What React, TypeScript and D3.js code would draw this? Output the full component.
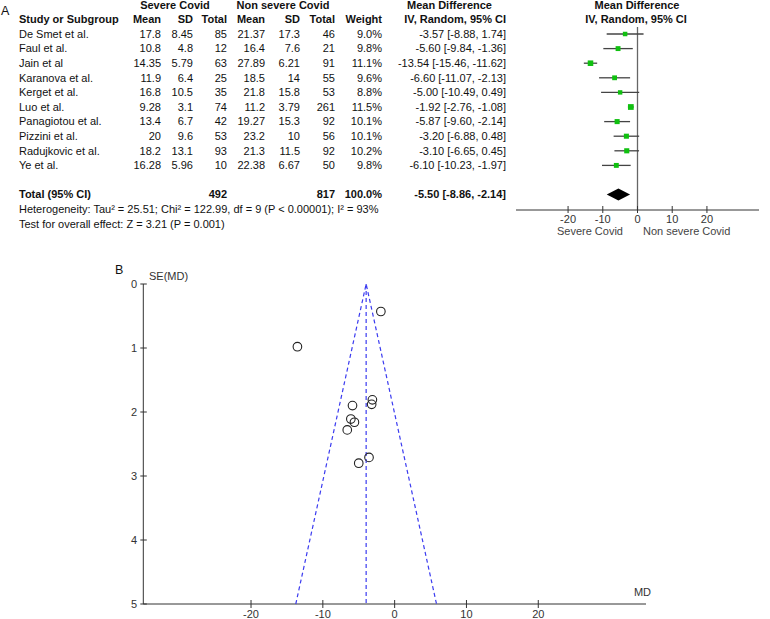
import React from 'react';
import * as d3 from 'd3';

// study table
const studies = ['De Smet et al.', 'Faul et al.', 'Jain et al', 'Karanova et al.', 'Kerget et al.', 'Luo et al.', 'Panagiotou et al.', 'Pizzini et al.', 'Radujkovic et al.', 'Ye et al.'];
const sevMean = ['17.8', '10.8', '14.35', '11.9', '16.8', '9.28', '13.4', '20', '18.2', '16.28'];
const sevSD = ['8.45', '4.8', '5.79', '6.4', '10.5', '3.1', '6.7', '9.6', '13.1', '5.96'];
const sevTotal = [85, 12, 63, 25, 35, 74, 42, 53, 93, 10];
const nonMean = ['21.37', '16.4', '27.89', '18.5', '21.8', '11.2', '19.27', '23.2', '21.3', '22.38'];
const nonSD = ['17.3', '7.6', '6.21', '14', '15.8', '3.79', '15.3', '10', '11.5', '6.67'];
const nonTotal = [46, 21, 91, 55, 53, 261, 92, 56, 92, 50];
const weights = [9.0, 9.8, 11.1, 9.6, 8.8, 11.5, 10.1, 10.1, 10.2, 9.8];
const md = [-3.57, -5.6, -13.54, -6.6, -5.0, -1.92, -5.87, -3.2, -3.1, -6.1];
const ciLow = [-8.88, -9.84, -15.46, -11.07, -10.49, -2.76, -9.6, -6.88, -6.65, -10.23];
const ciHigh = [1.74, -1.36, -11.62, -2.13, 0.49, -1.08, -2.14, 0.48, 0.45, -1.97];
// standard errors
const se = [2.71, 2.16, 0.98, 2.28, 2.8, 0.43, 1.9, 1.88, 1.81, 2.11];

const total = { sev: 492, non: 817, weight: '100.0%', md: -5.5, lo: -8.86, hi: -2.14 };
const funnelCenter = -3.97;
const forestTicks = [-20, -10, 0, 10, 20];
const funnelXTicks = [-20, -10, 0, 10, 20];
const funnelYTicks = [0, 1, 2, 3, 4, 5];

const FONT = 'Liberation Sans, Arial, sans-serif';
const fmt = (v: number) => v.toFixed(2);

export default function App() {
  const row = d3.scaleLinear().domain([0, 1]).range([34, 48.6]);
  const fx = d3.scaleLinear().domain([-35, 35]).range([516, 759]);
  const axisY = 210;

  const gx = d3.scaleLinear().domain([-35, 35]).range([143.3, 646]);
  const gy = d3.scaleLinear().domain([0, 5]).range([284, 604]);

  const cols = [
    { x: 161, vals: sevMean },
    { x: 193, vals: sevSD },
    { x: 227, vals: sevTotal.map(String) },
    { x: 265, vals: nonMean },
    { x: 300, vals: nonSD },
    { x: 335, vals: nonTotal.map(String) },
    { x: 382, vals: weights.map(w => w.toFixed(1) + '%') },
    { x: 506, vals: md.map((m, i) => `${fmt(m)} [${fmt(ciLow[i])}, ${fmt(ciHigh[i])}]`) },
  ];
  const heads = [
    { x: 161, t: 'Mean' }, { x: 193, t: 'SD' }, { x: 227, t: 'Total' },
    { x: 265, t: 'Mean' }, { x: 300, t: 'SD' }, { x: 335, t: 'Total' }, { x: 382, t: 'Weight' },
  ];

  const diamond = [
    [fx(total.lo), row(11)], [fx(total.md), row(11) - 6], [fx(total.hi), row(11)], [fx(total.md), row(11) + 6],
  ].map(p => p.join(',')).join(' ');

  const line = d3.line<[number, number]>().x(d => gx(d[0])).y(d => gy(d[1]));

  return (
    <svg width={770} height={619} style={{ position: 'absolute', left: 0, top: 0 }} fontFamily={FONT} fontSize={11} fill="#111">
      <rect width={770} height={619} fill="#fff" />
      {/* panel A */}
      <text x={1} y={15} fontSize={12.5}>A</text>
      <g fontWeight="bold">
        <text x={175} y={row(-2)} dy="0.35em" textAnchor="middle">Severe Covid</text>
        <text x={283} y={row(-2)} dy="0.35em" textAnchor="middle">Non severe Covid</text>
        <text x={407} y={row(-2)} dy="0.35em">Mean Difference</text>
        <text x={637} y={row(-2)} dy="0.35em" textAnchor="middle">Mean Difference</text>
        <text x={19} y={row(-1)} dy="0.35em">Study or Subgroup</text>
        {heads.map((h, i) => (
          <text key={i} x={h.x} y={row(-1)} dy="0.35em" textAnchor="end">{h.t}</text>
        ))}
        <text x={506} y={row(-1)} dy="0.35em" textAnchor="end">IV, Random, 95% CI</text>
        <text x={636} y={row(-1)} dy="0.35em" textAnchor="middle">IV, Random, 95% CI</text>
      </g>
      {studies.map((s, i) => (
        <text key={s} x={19} y={row(i)} dy="0.35em">{s}</text>
      ))}
      {cols.map((c, ci) => c.vals.map((v, i) => (
        <text key={ci + '-' + i} x={c.x} y={row(i)} dy="0.35em" textAnchor="end">{v}</text>
      )))}
      <g fontWeight="bold">
        <text x={19} y={row(11)} dy="0.35em">Total (95% CI)</text>
        <text x={227} y={row(11)} dy="0.35em" textAnchor="end">{total.sev}</text>
        <text x={335} y={row(11)} dy="0.35em" textAnchor="end">{total.non}</text>
        <text x={382} y={row(11)} dy="0.35em" textAnchor="end">{total.weight}</text>
        <text x={506} y={row(11)} dy="0.35em" textAnchor="end">{`${fmt(total.md)} [${fmt(total.lo)}, ${fmt(total.hi)}]`}</text>
      </g>
      <text x={19} y={row(12)} dy="0.35em">Heterogeneity: Tau² = 25.51; Chi² = 122.99, df = 9 (P &lt; 0.00001); I² = 93%</text>
      <text x={19} y={row(13)} dy="0.35em">Test for overall effect: Z = 3.21 (P = 0.001)</text>

      {/* forest plot */}
      <line x1={fx(0)} x2={fx(0)} y1={27} y2={axisY} stroke="#666" strokeWidth={1.3} />
      {studies.map((s, i) => {
        const sz = weights[i] * 0.5;
        return (
          <g key={s}>
            <line x1={fx(ciLow[i])} x2={fx(ciHigh[i])} y1={row(i)} y2={row(i)} stroke="#444" strokeWidth={1.3} />
            <rect x={fx(md[i]) - sz / 2} y={row(i) - sz / 2} width={sz} height={sz} fill="#10c010" />
          </g>
        );
      })}
      <polygon points={diamond} fill="#000" />
      <line x1={fx(-35)} x2={fx(35)} y1={axisY} y2={axisY} stroke="#333" />
      {forestTicks.map(t => (
        <g key={t}>
          <line x1={fx(t)} x2={fx(t)} y1={axisY - 4} y2={axisY + 3} stroke="#333" />
          <text x={fx(t)} y={219} dy="0.35em" textAnchor="middle" fill="#333">{t}</text>
        </g>
      ))}
      <text x={623} y={231} dy="0.35em" textAnchor="end" fill="#444">Severe Covid</text>
      <text x={643} y={231} dy="0.35em" fill="#444">Non severe Covid</text>

      {/* panel B: funnel plot */}
      <text x={115} y={274} fontSize={12.5}>B</text>
      <text x={149} y={276} dy="0.35em" fill="#333">SE(MD)</text>
      <line x1={gx(-35)} x2={gx(-35)} y1={gy(0)} y2={gy(5)} stroke="#333" />
      {funnelYTicks.map(t => (
        <g key={t}>
          <line x1={gx(-35) - 3} x2={gx(-35) + 3.5} y1={gy(t)} y2={gy(t)} stroke="#333" />
          <text x={137} y={gy(t)} dy="0.35em" textAnchor="end" fill="#333">{t}</text>
        </g>
      ))}
      <line x1={gx(-35)} x2={gx(35)} y1={gy(5)} y2={gy(5)} stroke="#333" />
      {funnelXTicks.map(t => (
        <g key={t}>
          <line x1={gx(t)} x2={gx(t)} y1={gy(5) - 4} y2={gy(5) + 4} stroke="#333" />
          <text x={gx(t)} y={614} dy="0.35em" textAnchor="middle" fill="#333">{t}</text>
        </g>
      ))}
      <text x={651} y={596} textAnchor="end" fill="#333">MD</text>
      <g fill="none" stroke="#3b3bf0" strokeWidth={1.2} strokeDasharray="4,3">
        <path d={line([[funnelCenter - 1.96 * 5, 5], [funnelCenter, 0], [funnelCenter + 1.96 * 5, 5]]) || ''} />
        <path d={line([[funnelCenter, 0], [funnelCenter, 5]]) || ''} />
      </g>
      {md.map((m, i) => (
        <circle key={i} cx={gx(m)} cy={gy(se[i])} r={4.3} fill="none" stroke="#222" strokeWidth={1.1} />
      ))}
    </svg>
  );
}
